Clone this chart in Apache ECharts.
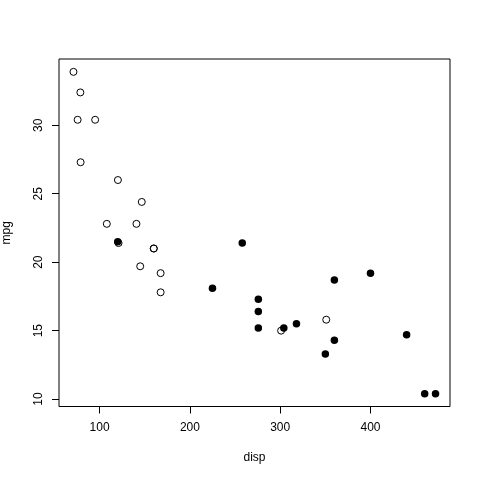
<!DOCTYPE html>
<html><head><meta charset="utf-8">
<script src="https://cdn.jsdelivr.net/npm/echarts@6/dist/echarts.min.js"></script>
<style>html,body{margin:0;padding:0;background:#fff}#c{width:480px;height:480px}</style>
</head><body><div id="c"></div>
<script>
// Open circles (gear 4/5)
const openDisp = [160, 160, 108, 146.7, 140.8, 167.6, 167.6, 78.7, 75.7, 71.1, 79, 120.3, 95.1, 351, 145, 301, 121];
const openMpg  = [21.0, 21.0, 22.8, 24.4, 22.8, 19.2, 17.8, 32.4, 30.4, 33.9, 27.3, 26.0, 30.4, 15.8, 19.7, 15.0, 21.4];
// Filled circles (gear 3)
const fillDisp = [258, 360, 225, 360, 275.8, 275.8, 275.8, 472, 460, 440, 120.1, 318, 304, 350, 400];
const fillMpg  = [21.4, 18.7, 18.1, 14.3, 16.4, 17.3, 15.2, 10.4, 10.4, 14.7, 21.5, 15.5, 15.2, 13.3, 19.2];
const xTicks = [100, 200, 300, 400];
const yTicks = [10, 15, 20, 25, 30];
const xTitle = 'disp';
const yTitle = 'mpg';

const allX = openDisp.concat(fillDisp), allY = openMpg.concat(fillMpg);
const xmin = Math.min(...allX), xmax = Math.max(...allX);
const ymin = Math.min(...allY), ymax = Math.max(...allY);
const xr = xmax - xmin, yr = ymax - ymin;

const font = 'Liberation Sans, Arial, Helvetica, sans-serif';
const chart = echarts.init(document.getElementById('c'), null, {renderer: 'canvas'});
chart.setOption({
  animation: false,
  backgroundColor: '#fff',
  grid: {left: 59, right: 30, top: 59, bottom: 73.5, containLabel: false, outerBoundsMode: 'none',
         show: true, borderColor: '#000', borderWidth: 1, backgroundColor: 'transparent'},
  xAxis: {
    type: 'value', min: xmin - 0.04 * xr, max: xmax + 0.04 * xr,
    splitLine: {show: false}, axisLine: {show: false},
    axisTick: {show: true, length: 7, customValues: xTicks, lineStyle: {color: '#000'}},
    axisLabel: {customValues: xTicks, margin: 15, color: '#000', fontSize: 12, fontFamily: font},
    name: xTitle, nameLocation: 'middle', nameGap: 45,
    nameTextStyle: {color: '#000', fontSize: 12, fontFamily: font}
  },
  yAxis: {
    type: 'value', min: ymin - 0.04 * yr, max: ymax + 0.04 * yr,
    splitLine: {show: false}, axisLine: {show: false},
    axisTick: {show: true, length: 7, customValues: yTicks, lineStyle: {color: '#000'}},
    axisLabel: {customValues: yTicks, rotate: 90, margin: 14, color: '#000', fontSize: 12, fontFamily: font},
    name: yTitle, nameLocation: 'middle', nameGap: 46, nameRotate: 90,
    nameTextStyle: {color: '#000', fontSize: 12, fontFamily: font}
  },
  series: [
    {type: 'scatter', data: openDisp.map((d, i) => [d, openMpg[i]]), symbol: 'circle', symbolSize: 7,
     itemStyle: {color: 'rgba(0,0,0,0)', borderColor: '#000', borderWidth: 1, opacity: 1}},
    {type: 'scatter', data: fillDisp.map((d, i) => [d, fillMpg[i]]), symbol: 'circle', symbolSize: 7.5,
     itemStyle: {color: '#000', borderWidth: 0, opacity: 1}}
  ]
});
</script></body></html>
